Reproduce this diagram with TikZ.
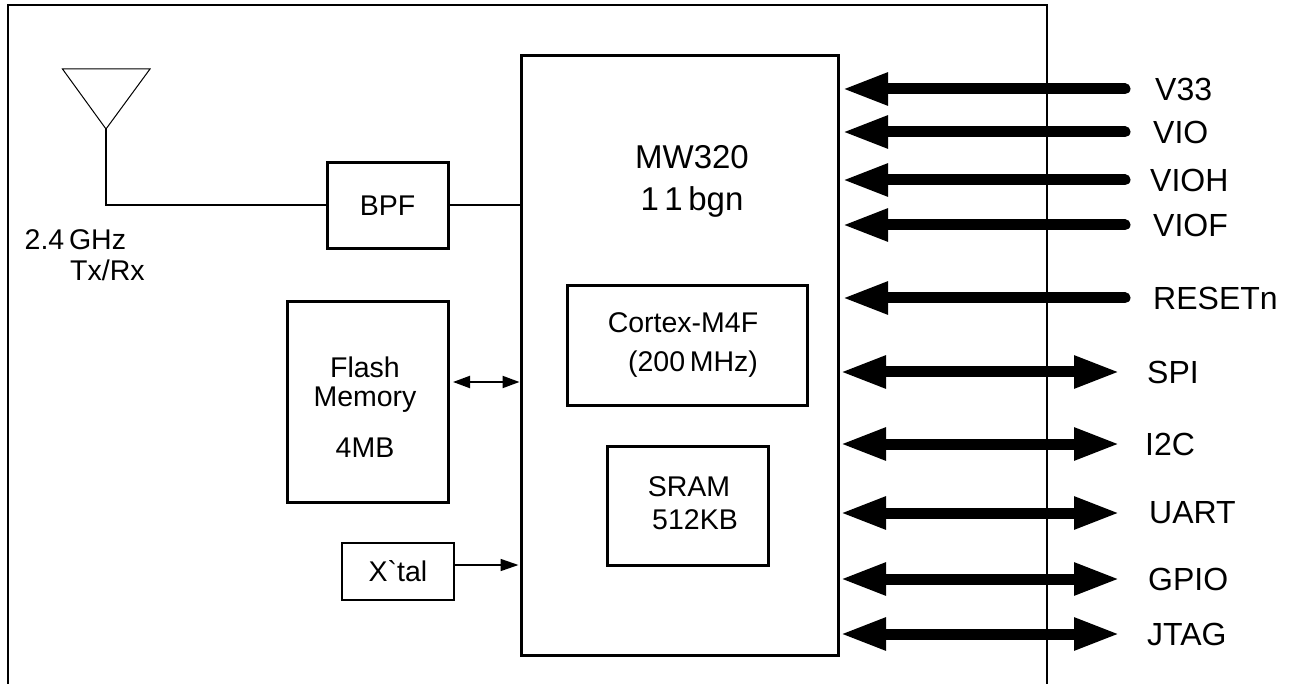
\documentclass[tikz,border=0pt]{standalone}
\usepackage{fontspec}
\setmainfont{Liberation Sans}
\newfontfamily\rawfont{Liberation Sans}[Mapping={}]
\usetikzlibrary{arrows.meta}
\newcommand{\fsz}[1]{\fontsize{#1}{#1}\selectfont}
\begin{document}
\begin{tikzpicture}[x=1pt,y=-1pt,
  blk/.style={draw, line width=3pt, inner sep=0pt},
  txt/.style={inner sep=0pt, font=\fsz{28.5}},
  lbl/.style={inner sep=0pt, anchor=west, font=\fsz{32}},
  pwr/.style={line width=11pt, line cap=round, -{Triangle[length=46pt,width=30pt]}},
  bus/.style={line width=11pt, {Triangle[length=46pt,width=30pt]}-{Triangle[length=46pt,width=30pt]}},
  thin/.style={line width=1.5pt}]
\useasboundingbox (0,0) rectangle (1301,684);
% outer frame
\draw[line width=1.8pt] (8,684) -- (8,5) -- (1047,5) -- (1047,684);
% blocks
\node[blk, minimum width=317pt, minimum height=599pt] (main) at (679.5,355.5) {};
\node[blk, minimum width=121pt, minimum height=86pt] (bpf) at (387.5,206) {};
\node[txt] (bpft) at (387.5,206) {BPF};
\node[blk, minimum width=161pt, minimum height=200pt] (flash) at (367.5,402) {};
\node[txt] (fl1) at (365,367) {Flash};
\node[txt] (fl2) at (365,400) {Memory};
\node[txt] (fl3) at (365,448) {4MB};
\node[blk, line width=2.6pt, minimum width=112pt, minimum height=57pt] (xtal) at (398,571.5) {};
\node[txt] (xtalt) at (398,571.5) {X{\rawfont\symbol{96}}tal};
\node[blk, minimum width=240pt, minimum height=119pt] (cpu) at (687,345.5) {};
\node[txt] (cpu1) at (683,323) {Cortex-M4F};
\node[txt] (cpu2) at (693,364) {(200\,MHz)};
\node[blk, minimum width=161pt, minimum height=119pt] (sram) at (687.5,505.5) {};
\node[txt] (sr1) at (689,487) {SRAM};
\node[txt] (sr2) at (695,520) {512KB};
\node[inner sep=0pt, font=\fsz{33}] (mw) at (692,157) {MW320};
\node[inner sep=0pt, font=\fsz{33}] (bgn) at (692,202) {1\,1\,bgn};
% antenna
\coordinate (apex) at (106,129);
\coordinate (stem) at (106,205);
\draw[line width=1pt] (62.5,69) -- (150,69) -- (apex) -- cycle;
\draw[thin] (apex) -- (stem) -- (stem -| bpf.west);
\draw[thin] (stem -| bpf.east) -- (stem -| main.west);
\node[txt, anchor=west] (ghz) at (24.5,240) {2.4\,GHz};
\node[txt, anchor=west] (txrx) at (70,270) {Tx/Rx};
% flash and xtal connectors
\coordinate (fa) at (453,382);
\draw[line width=2pt, {Triangle[length=17pt,width=12pt]}-{Triangle[length=17pt,width=12pt]}] (fa) -- (fa -| main.west);
\coordinate (xa) at (454,565);
\draw[line width=1.6pt, -{Triangle[length=18pt,width=12pt]}] (xa) -- ([xshift=-1pt]xa -| main.west);
% right side
\foreach \n/\t/\y/\lx in {v33/V33/89/1155, vio/VIO/132/1153, vioh/VIOH/180/1150, viof/VIOF/225/1153, rst/RESETn/298/1153}{
  \coordinate (\n e) at (1125,\y);
  \coordinate (\n t) at (842,\y);
  \node[lbl] (\n) at (\lx,\y) {\t};
  \draw[pwr] (\n e) -- (\n t);
}
\foreach \n/\t/\y/\lx in {spi/SPI/372/1147, i2c/I2C/444/1145, uart/UART/513/1149, gpio/GPIO/579/1148, jtag/JTAG/634/1147}{
  \coordinate (\n e) at (1120,\y);
  \coordinate (\n t) at (840,\y);
  \node[lbl] (\n) at (\lx,\y) {\t};
  \draw[bus] (\n t) -- (\n e);
}
\end{tikzpicture}
\end{document}
